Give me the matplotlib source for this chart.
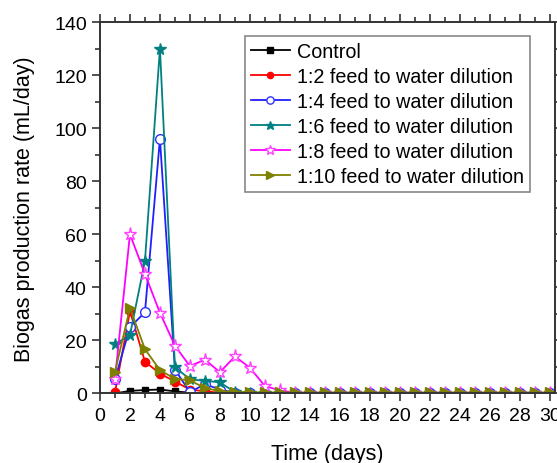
import matplotlib
matplotlib.use("Agg")
import matplotlib.pyplot as plt
from matplotlib.ticker import MultipleLocator

plt.rcParams['font.family'] = ['Liberation Sans', 'DejaVu Sans']

days = list(range(1, 31))
control = [0.0, 1.0, 1.3, 1.5, 0.8, 0.3] + [0.0] * 24
dil_1_2 = [0.4, 31.0, 12.0, 7.5, 4.5, 1.5, 0.8, 0.3] + [0.0] * 22
dil_1_4 = [5.3, 25.0, 30.6, 96.0, 9.0, 0.5, 3.5, 1.5, 0.3] + [0.0] * 21
dil_1_6 = [18.6, 22.0, 50.0, 130.0, 10.0, 5.3, 4.8, 4.2, 0.5, 0.3] + [0.0] * 20
dil_1_8 = [5.5, 60.0, 45.0, 30.4, 18.0, 10.3, 12.8, 8.0, 14.0, 9.7, 2.8, 1.2, 0.3] + [0.0] * 17
dil_1_10 = [8.2, 32.2, 16.7, 8.8, 5.5, 5.0, 2.0, 0.9, 0.6, 0.5] + [0.4] * 20

labels = ["Control", "1:2 feed to water dilution", "1:4 feed to water dilution",
          "1:6 feed to water dilution", "1:8 feed to water dilution",
          "1:10 feed to water dilution"]

fig = plt.figure(figsize=(5.57, 4.64), dpi=100)
ax = fig.add_axes([0.1795, 0.1498, 0.8169, 0.8006])

lw = 1.3
ax.plot(days, control, color='black', marker='s', ms=5, lw=lw, label=labels[0])
ax.plot(days, dil_1_2, color='#ff0000', marker='o', ms=6, lw=lw, label=labels[1])
ax.plot(days, dil_1_4, color='#2020ff', marker='o', ms=7, mfc='white', mec='#3030ff', lw=lw, label=labels[2])
ax.plot(days, dil_1_6, color='#008080', marker='*', ms=8.5, lw=lw, label=labels[3])
ax.plot(days, dil_1_8, color='#ff00ff', marker='*', ms=9.5, mfc='white', mec='#ff40ff', lw=lw, label=labels[4])
ax.plot(days, dil_1_10, color='#808000', marker='>', ms=7, lw=lw, label=labels[5])

ax.set_xlim(0, 30.35)
ax.set_ylim(0, 140)
ax.xaxis.set_major_locator(MultipleLocator(2))
ax.xaxis.set_minor_locator(MultipleLocator(1))
ax.yaxis.set_major_locator(MultipleLocator(20))
ax.yaxis.set_minor_locator(MultipleLocator(10))
ax.tick_params(which='both', direction='out', top=True, right=True, labelsize=14, color='#333333', width=1.2)
ax.tick_params(which='major', length=6)
ax.tick_params(which='minor', length=3.5)
for s in ax.spines.values():
    s.set_color('#333333')
    s.set_linewidth(1.4)

ax.set_xlabel("Time (days)", fontsize=15.5, labelpad=14)
ax.set_ylabel("Biogas production rate (mL/day)", fontsize=15.5, labelpad=14)

leg = ax.legend(loc='upper left', bbox_to_anchor=(0.318, 0.962), fontsize=14.2,
                frameon=True, fancybox=False, edgecolor='#888888', framealpha=1,
                handlelength=2.0, handletextpad=0.35, labelspacing=0.3,
                borderpad=0.3, borderaxespad=0, markerscale=0.75)
leg.get_frame().set_linewidth(1.2)

fig.savefig("out.png", dpi=100)
